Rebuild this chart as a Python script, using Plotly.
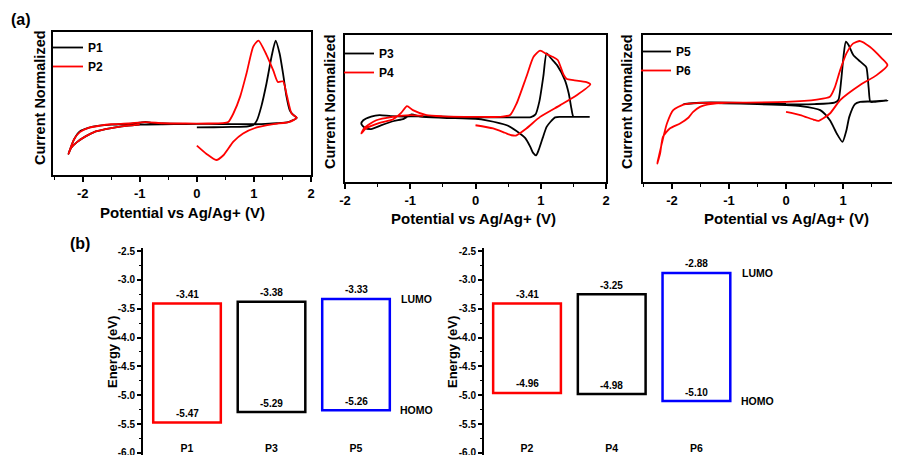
import plotly.graph_objects as go

# ---------------- data: cyclic voltammograms (normalized current) ----------------
p1_v = [0, 0.3, 0.6, 0.9, 0.99, 1.05, 1.13, 1.22, 1.31, 1.38, 1.45, 1.51, 1.57, 1.63, 1.69, 1.75,
        1.6, 1.4, 1.2, 1.0, 0.6, 0.2, -0.2, -0.6, -0.8, -0.9, -1.0, -1.2, -1.5, -1.7, -1.9, -2.05, -2.15, -2.25,
        -2.2, -2.1, -1.95, -1.8, -1.6, -1.4, -1.2, -1.0, -0.6, -0.2, 0]
p1_i = [0.333, 0.334, 0.336, 0.34, 0.35, 0.38, 0.48, 0.64, 0.83, 0.94, 0.85, 0.71, 0.55, 0.45, 0.42, 0.40,
        0.37, 0.362, 0.358, 0.355, 0.356, 0.357, 0.358, 0.36, 0.365, 0.372, 0.366, 0.358, 0.352, 0.345, 0.33, 0.305, 0.25, 0.147,
        0.19, 0.23, 0.27, 0.30, 0.32, 0.335, 0.345, 0.352, 0.355, 0.356, 0.357]

p2_v = [0, 0.17, 0.34, 0.47, 0.64, 0.81, 1.05, 1.34, 1.63, 1.75,
        1.66, 1.58, 1.51, 1.42, 1.34, 1.22, 1.08, 0.99, 0.87, 0.76, 0.64, 0.55, 0.45,
        0.2, -0.2, -0.6, -0.9, -1.2, -1.5, -1.7, -1.9, -2.05, -2.15, -2.25,
        -2.2, -2.1, -1.95, -1.8, -1.6, -1.4, -1.2, -1.0]
p2_i = [0.205, 0.147, 0.105, 0.14, 0.233, 0.29, 0.333, 0.356, 0.372, 0.40,
        0.43, 0.55, 0.655, 0.65, 0.73, 0.84, 0.94, 0.90, 0.71, 0.55, 0.43, 0.37, 0.362,
        0.36, 0.36, 0.362, 0.37, 0.36, 0.355, 0.345, 0.33, 0.30, 0.25, 0.147,
        0.19, 0.23, 0.27, 0.30, 0.32, 0.335, 0.345, 0.352]

p3_v = [0, 0.5, 0.85, 0.92, 0.98, 1.04, 1.09, 1.16, 1.25, 1.37, 1.43, 1.47, 1.5, 1.6, 1.75,
        1.5, 1.3, 1.22, 1.15, 1.09, 1.03, 0.97, 0.93, 0.88, 0.84, 0.76, 0.68, 0.48, 0.17, 0,
        -0.5, -0.85, -0.98, -1.1, -1.25, -1.45, -1.6, -1.7, -1.75,
        -1.72, -1.6, -1.47, -1.3, -1.1, -0.9, -0.5, 0]
p3_i = [0.439, 0.44, 0.442, 0.46, 0.55, 0.72, 0.875, 0.84, 0.795, 0.693, 0.6, 0.5, 0.445, 0.443, 0.443,
        0.443, 0.443, 0.44, 0.41, 0.375, 0.3, 0.22, 0.182, 0.2, 0.239, 0.3, 0.33, 0.386, 0.42, 0.43,
        0.437, 0.445, 0.46, 0.43, 0.415, 0.385, 0.36, 0.37, 0.395,
        0.42, 0.445, 0.455, 0.448, 0.445, 0.447, 0.445, 0.44]

p4_v = [0, 0.27, 0.45, 0.55, 0.62, 0.78, 0.99, 1.3, 1.55, 1.76,
        1.7, 1.5, 1.4, 1.35, 1.26, 1.19, 1.09, 0.99, 0.89, 0.78, 0.63, 0.53, 0.37,
        0, -0.5, -0.75, -0.96, -1.05, -1.14, -1.27, -1.47, -1.68, -1.75,
        -1.7, -1.52, -1.27, -1.0, -0.8]
p4_i = [0.386, 0.364, 0.335, 0.318, 0.316, 0.364, 0.443, 0.523, 0.59, 0.664,
        0.68, 0.693, 0.70, 0.73, 0.83, 0.85, 0.87, 0.893, 0.852, 0.716, 0.534, 0.455, 0.443,
        0.443, 0.447, 0.455, 0.489, 0.516, 0.47, 0.425, 0.402, 0.364, 0.33,
        0.37, 0.42, 0.443, 0.455, 0.45]

p5_v = [0, 0.5, 0.85, 0.92, 0.97, 1.01, 1.05, 1.1, 1.18, 1.27, 1.36, 1.41, 1.45, 1.48, 1.55, 1.78,
        1.5, 1.3, 1.21, 1.11, 1.06, 0.99, 0.89, 0.77, 0.6, 0.25, 0,
        -0.5, -1.1, -1.45, -1.8, -1.5, -1.0, -0.5, 0]
p5_i = [0.528, 0.53, 0.54, 0.56, 0.70, 0.86, 0.955, 0.93, 0.864, 0.83, 0.80, 0.78, 0.64, 0.545, 0.545, 0.555,
        0.548, 0.545, 0.53, 0.443, 0.352, 0.273, 0.33, 0.42, 0.489, 0.516, 0.523,
        0.53, 0.535, 0.538, 0.53, 0.54, 0.54, 0.535, 0.532]

p6_v = [0, 0.25, 0.48, 0.57, 0.77, 0.95, 1.3, 1.59, 1.78,
        1.68, 1.47, 1.3, 1.18, 1.06, 0.95, 0.86, 0.77, 0.54, 0,
        -1.0, -1.51, -1.8, -1.98, -2.09, -2.18, -2.26,
        -2.21, -2.16, -2.04, -1.86, -1.71, -1.63, -1.51, -1.33, -1.0]
p6_i = [0.477, 0.455, 0.425, 0.416, 0.466, 0.557, 0.66, 0.727, 0.795,
        0.841, 0.92, 0.959, 0.943, 0.875, 0.761, 0.648, 0.58, 0.561, 0.545,
        0.54, 0.538, 0.527, 0.489, 0.398, 0.261, 0.125,
        0.193, 0.307, 0.364, 0.398, 0.439, 0.477, 0.511, 0.53, 0.54]

cv_ticks = [-2, -1, 0, 1, 2]
cv_tick_labels = ["-2", "-1", "0", "1", "2"]

# ---------------- data: energy levels ----------------
left_names = ["P1", "P3", "P5"]
left_lumo = [-3.41, -3.38, -3.33]
left_homo = [-5.47, -5.29, -5.26]
right_names = ["P2", "P4", "P6"]
right_lumo = [-3.41, -3.25, -2.88]
right_homo = [-4.96, -4.98, -5.10]
energy_ticks = [-2.5, -3.0, -3.5, -4.0, -4.5, -5.0, -5.5, -6.0]
energy_tick_labels = ["-2.5", "-3.0", "-3.5", "-4.0", "-4.5", "-5.0", "-5.5", "-6.0"]
bar_colors = ["#ff0000", "#000000", "#0000ff"]

FONT = "Liberation Sans"
BLACK = "#000000"
RED = "#ff0000"


def bfont(size, weight="bold"):
    return dict(family=FONT, size=size, color=BLACK, weight=weight)


fig = go.Figure()

cv_sets = [
    (p1_v, p1_i, "P1", BLACK, "x", "y", "legend"),
    (p2_v, p2_i, "P2", RED, "x", "y", "legend"),
    (p3_v, p3_i, "P3", BLACK, "x2", "y2", "legend2"),
    (p4_v, p4_i, "P4", RED, "x2", "y2", "legend2"),
    (p5_v, p5_i, "P5", BLACK, "x3", "y3", "legend3"),
    (p6_v, p6_i, "P6", RED, "x3", "y3", "legend3"),
]
for xv, yv, name, col, xa, ya, lg in cv_sets:
    fig.add_trace(go.Scatter(x=xv, y=yv, mode="lines", name=name,
                             line=dict(color=col, width=1.8, shape="spline", smoothing=0.6),
                             xaxis=xa, yaxis=ya, legend=lg))

# energy bars (outlined rectangles from HOMO to LUMO)
for names, lumo, homo, xa, ya in [(left_names, left_lumo, left_homo, "x4", "y4"),
                                  (right_names, right_lumo, right_homo, "x5", "y5")]:
    idx = list(range(len(names)))
    fig.add_trace(go.Bar(x=idx, y=[l - h for l, h in zip(lumo, homo)], base=homo,
                         width=0.8, marker=dict(color="rgba(0,0,0,0)",
                                                line=dict(color=bar_colors, width=2.5)),
                         showlegend=False, xaxis=xa, yaxis=ya, hoverinfo="skip"))

# the page body adds an 8px margin; the figure fills the rest of the 900x455 window
OFF = 8
W, H = 900 - OFF, 455 - OFF


def px_x(p):
    return (p - OFF) / W


def px_y(p):
    return 1 - (p - OFF) / H


cv_x_common = dict(showline=True, linecolor=BLACK, linewidth=2, mirror=True,
                   ticks="outside", ticklen=5, tickwidth=1.5, tickcolor=BLACK,
                   tickvals=cv_ticks, ticktext=cv_tick_labels, tickfont=bfont(13),
                   minor=dict(tickmode="linear", tick0=0, dtick=0.5, ticks="outside",
                              ticklen=3, tickwidth=1.2, tickcolor=BLACK),
                   showgrid=False, zeroline=False, automargin=False,
                   ticklabeloverflow="allow")
cv_y_common = dict(showline=True, linecolor=BLACK, linewidth=2, mirror=True,
                   ticks="", showticklabels=False, showgrid=False, zeroline=False,
                   range=[0, 1], automargin=False)

en_y_common = dict(showline=True, linecolor=BLACK, linewidth=2, ticks="outside",
                   ticklen=4, tickwidth=1.5, tickcolor=BLACK,
                   tickvals=energy_ticks, ticktext=energy_tick_labels, tickfont=bfont(10),
                   minor=dict(tickmode="linear", tick0=-2.5, dtick=0.25, ticks="outside",
                              ticklen=2, tickwidth=1, tickcolor=BLACK),
                   showgrid=False, zeroline=False, range=[-6.035, -2.448],
                   domain=[0, px_y(248)], automargin=False, ticklabeloverflow="allow")
en_x_common = dict(showline=False, showgrid=False, zeroline=False, ticks="",
                   tickvals=[0, 1, 2], tickfont=bfont(10.5), anchor="free",
                   position=px_y(440), automargin=False)

fig.update_layout(
    width=W, height=H, margin=dict(l=0, r=0, t=0, b=0, autoexpand=False),
    paper_bgcolor="white", plot_bgcolor="white",
    barmode="overlay", showlegend=True,
    xaxis=dict(domain=[px_x(53), px_x(311)], range=[-2.52, 2.0], anchor="y", **cv_x_common),
    yaxis=dict(domain=[px_y(175), px_y(32)], anchor="x", **cv_y_common),
    xaxis2=dict(domain=[px_x(345), px_x(606)], range=[-2.0, 2.0], anchor="y2", **cv_x_common),
    yaxis2=dict(domain=[px_y(182), px_y(35)], anchor="x2", **cv_y_common),
    xaxis3=dict(domain=[px_x(643), px_x(900)], range=[-2.51, 2.0], anchor="y3", **cv_x_common),
    yaxis3=dict(domain=[px_y(182), px_y(35)], anchor="x3", **cv_y_common),
    xaxis4=dict(domain=[px_x(143), px_x(440)], range=[-0.521, 2.994], ticktext=left_names, **en_x_common),
    yaxis4=dict(anchor="x4", **en_y_common),
    xaxis5=dict(domain=[px_x(484), px_x(800)], range=[-0.508, 3.223], ticktext=right_names, **en_x_common),
    yaxis5=dict(anchor="x5", **en_y_common),
)

leg_common = dict(xanchor="left", yanchor="top", bgcolor="rgba(0,0,0,0)",
                  font=bfont(12), borderwidth=0, tracegroupgap=0)
fig.update_layout(
    legend=dict(x=px_x(48), y=px_y(33), **leg_common),
    legend2=dict(x=px_x(339), y=px_y(39), **leg_common),
    legend3=dict(x=px_x(636), y=px_y(37), **leg_common),
)

ann = []


def paper_text(text, cx, cy, font, angle=0):
    ann.append(dict(text=text, x=px_x(cx), y=px_y(cy), xref="paper", yref="paper",
                    xanchor="center", yanchor="middle", showarrow=False,
                    textangle=angle, font=font))


# panel letters
paper_text("(a)", 21, 20, bfont(16))
paper_text("(b)", 80, 243, bfont(16))
# CV axis titles
for cx, cy in [(40, 98), (330, 102), (627, 102)]:
    paper_text("Current Normalized", cx, cy, bfont(14.5), -90)
for cx, cy in [(182, 212), (473, 218), (786, 218)]:
    paper_text("Potential vs Ag/Ag+ (V)", cx, cy, bfont(15))
# energy axis titles
for cx in [112, 452]:
    paper_text("Energy (eV)", cx, 352, bfont(13), -90)

# value labels and LUMO/HOMO tags
label_x = 2.72
for lumo, homo, xa, ya in [(left_lumo, left_homo, "x4", "y4"), (right_lumo, right_homo, "x5", "y5")]:
    for i, (l, h) in enumerate(zip(lumo, homo)):
        ann.append(dict(text=f"{l:.2f}", x=i, y=l, xref=xa, yref=ya, yshift=9,
                        xanchor="center", yanchor="middle", showarrow=False, font=bfont(10)))
        ann.append(dict(text=f"{h:.2f}", x=i, y=h, xref=xa, yref=ya, yshift=9,
                        xanchor="center", yanchor="middle", showarrow=False, font=bfont(10)))
    ann.append(dict(text="LUMO", x=label_x, y=lumo[-1], xref=xa, yref=ya,
                    xanchor="center", yanchor="middle", showarrow=False, font=bfont(10.5)))
    ann.append(dict(text="HOMO", x=label_x, y=homo[-1], xref=xa, yref=ya,
                    xanchor="center", yanchor="middle", showarrow=False, font=bfont(10.5)))
fig.update_layout(annotations=ann)

fig.write_html("out.html")
